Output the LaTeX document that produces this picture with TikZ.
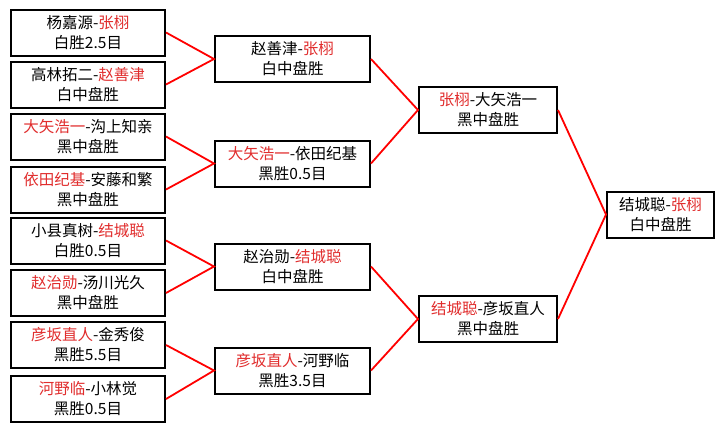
\documentclass[tikz,border=0pt]{standalone}
\usepackage{fontspec}
\setmainfont{Noto Sans CJK SC}
\definecolor{winred}{RGB}{225,45,45}

\begin{document}
\begin{tikzpicture}[x=1pt, y=-1pt,
    box/.style={draw, line width=2pt, align=center, inner sep=0pt,
                minimum height=46pt, font=\fontsize{15.5}{20}\selectfont},
    link/.style={red, line width=1.8pt}]

    % 0. Rahmen
    \fill[white] (0,0) rectangle (723,429);
    \useasboundingbox (0,0) rectangle (723,429);

    % 1. Erste Runde (links)
    \node[box, minimum width=154pt] (r1a) at (88,32.5)  {杨嘉源-\textcolor{winred}{张栩}\\白胜2.5目};
    \node[box, minimum width=154pt] (r1b) at (88,84.5)  {高林拓二-\textcolor{winred}{赵善津}\\白中盘胜};
    \node[box, minimum width=154pt] (r1c) at (88,136.5) {\textcolor{winred}{大矢浩一}-沟上知亲\\黑中盘胜};
    \node[box, minimum width=154pt] (r1d) at (88,189.5) {\textcolor{winred}{依田纪基}-安藤和繁\\黑中盘胜};
    \node[box, minimum width=154pt] (r1e) at (88,240.5) {小县真树-\textcolor{winred}{结城聪}\\白胜0.5目};
    \node[box, minimum width=154pt] (r1f) at (88,293)   {\textcolor{winred}{赵治勋}-汤川光久\\黑中盘胜};
    \node[box, minimum width=154pt] (r1g) at (88,345)   {\textcolor{winred}{彦坂直人}-金秀俊\\黑胜5.5目};
    \node[box, minimum width=154pt] (r1h) at (88,399)   {\textcolor{winred}{河野临}-小林觉\\黑胜0.5目};

    % 2. Zweite Runde
    \node[box, minimum width=155pt] (r2a) at (292.5,59)    {赵善津-\textcolor{winred}{张栩}\\白中盘胜};
    \node[box, minimum width=155pt] (r2b) at (292.5,163.5) {\textcolor{winred}{大矢浩一}-依田纪基\\黑胜0.5目};
    \node[box, minimum width=155pt] (r2c) at (292.5,266.5) {赵治勋-\textcolor{winred}{结城聪}\\白中盘胜};
    \node[box, minimum width=155pt] (r2d) at (292.5,370.5) {\textcolor{winred}{彦坂直人}-河野临\\黑胜3.5目};

    % 3. Halbfinale
    \node[box, minimum width=138pt] (r3a) at (488,110) {\textcolor{winred}{张栩}-大矢浩一\\黑中盘胜};
    \node[box, minimum width=138pt] (r3b) at (488,319) {\textcolor{winred}{结城聪}-彦坂直人\\黑中盘胜};

    % 4. Finale
    \node[box, minimum width=107pt] (r4) at (660.5,214.5) {结城聪-\textcolor{winred}{张栩}\\白中盘胜};

    % 5. Verbindungen
    \draw[link] (r1a.east) -- (r2a.west) -- (r1b.east);
    \draw[link] (r1c.east) -- (r2b.west) -- (r1d.east);
    \draw[link] (r1e.east) -- (r2c.west) -- (r1f.east);
    \draw[link] (r1g.east) -- (r2d.west) -- (r1h.east);
    \draw[link] (r2a.east) -- (r3a.west) -- (r2b.east);
    \draw[link] (r2c.east) -- (r3b.west) -- (r2d.east);
    \draw[link] (r3a.east) -- (r4.west) -- (r3b.east);

\end{tikzpicture}
\end{document}
